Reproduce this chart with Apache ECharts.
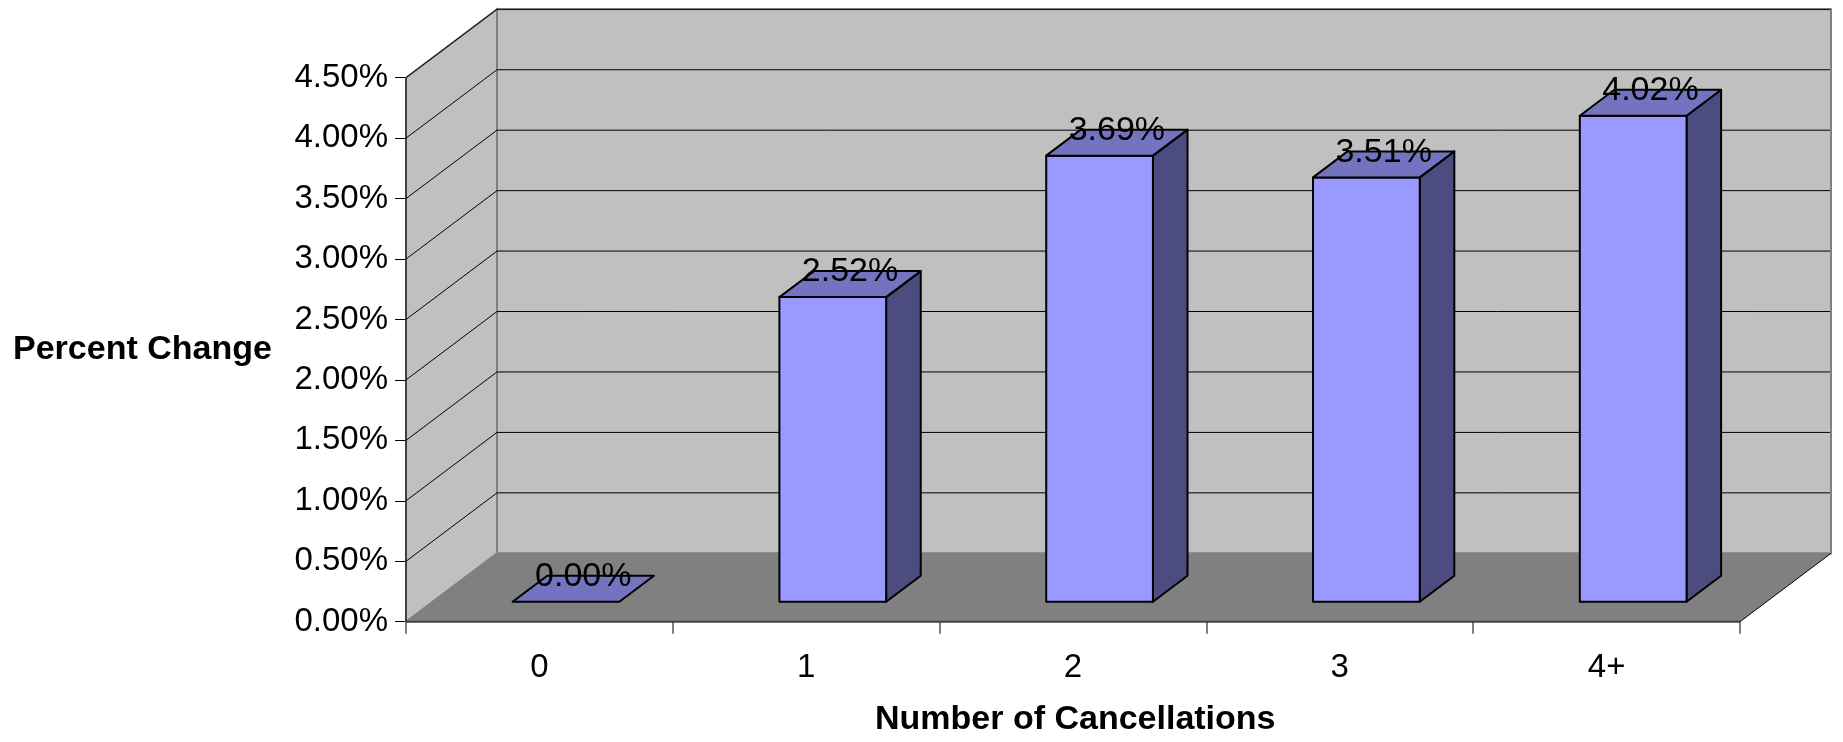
<!DOCTYPE html>
<html>
<head>
<meta charset="utf-8">
<script src="https://cdn.jsdelivr.net/npm/echarts@6/dist/echarts.min.js"></script>
<style>
  html, body { margin: 0; padding: 0; background: #ffffff; }
  #chart { width: 1843px; height: 742px; }
</style>
</head>
<body>
<div id="chart"></div>
<script>
// Chart data
const categories = ['0', '1', '2', '3', '4+'];
const percentChange = [0.00, 2.52, 3.69, 3.51, 4.02];
const yTicks = [0, 0.5, 1.0, 1.5, 2.0, 2.5, 3.0, 3.5, 4.0, 4.5];

// Oblique projection of the depth axis (screen offset of the full floor depth)
const DEPTH_DX = 91;
const DEPTH_DY = -68.4;
// Bars occupy this slice of the depth (0 = front, 1 = back wall)
const BAR_Z0 = 0.292;
const BAR_Z1 = 0.672;
const BAR_RATIO = 0.4;

const FONT = '"Liberation Sans", Arial, sans-serif';

const chart = echarts.init(document.getElementById('chart'), null, { renderer: 'canvas' });

function renderWalls(params, api) {
  const cs = params.coordSys;
  const xL = cs.x, xR = cs.x + cs.width;
  const y0 = api.coord([0, 0])[1];
  const yTop = api.coord([0, yTicks[yTicks.length - 1]])[1];
  const dx = DEPTH_DX, dy = DEPTH_DY;
  const children = [];
  // back wall
  children.push({
    type: 'polygon',
    shape: { points: [[xL + dx, yTop + dy], [xR + dx, yTop + dy], [xR + dx, y0 + dy], [xL + dx, y0 + dy]] },
    style: { fill: '#C0C0C0', stroke: '#808080', lineWidth: 2 }
  });
  // left side wall
  children.push({
    type: 'polygon',
    shape: { points: [[xL, y0], [xL, yTop], [xL + dx, yTop + dy], [xL + dx, y0 + dy]] },
    style: { fill: '#C0C0C0', stroke: '#808080', lineWidth: 2 }
  });
  // gridlines on both walls
  yTicks.forEach(function (v) {
    if (v === 0) return;
    const y = api.coord([0, v])[1];
    children.push({
      type: 'polyline',
      shape: { points: [[xL, y], [xL + dx, y + dy], [xR + dx, y + dy]] },
      style: { stroke: '#000000', lineWidth: 1, fill: null }
    });
  });
  // floor
  children.push({
    type: 'polygon',
    shape: { points: [[xL, y0], [xR, y0], [xR + dx, y0 + dy], [xL + dx, y0 + dy]] },
    style: { fill: '#808080', stroke: null }
  });
  children.push({
    type: 'line',
    shape: { x1: xR, y1: y0, x2: xR + dx, y2: y0 + dy },
    style: { stroke: '#000000', lineWidth: 1 }
  });
  children.push({
    type: 'line',
    shape: { x1: xR + dx, y1: y0 + dy, x2: xR + dx, y2: yTop + dy },
    style: { stroke: '#808080', lineWidth: 2 }
  });
  // front axis edges
  children.push({
    type: 'line',
    shape: { x1: xL, y1: y0, x2: xL, y2: yTop },
    style: { stroke: '#000000', lineWidth: 1 }
  });
  children.push({
    type: 'line',
    shape: { x1: xL, y1: y0, x2: xR, y2: y0 },
    style: { stroke: '#404040', lineWidth: 2 }
  });
  return { type: 'group', children: children };
}

function renderBar(params, api) {
  const cat = api.value(0);
  const val = api.value(1);
  const base = api.coord([cat, 0]);
  const top = api.coord([cat, val]);
  const band = api.size([1, 0])[0];
  const w = band * BAR_RATIO;
  const fx = DEPTH_DX * BAR_Z0, fy = DEPTH_DY * BAR_Z0;
  const bx = DEPTH_DX * BAR_Z1, by = DEPTH_DY * BAR_Z1;
  const xl = base[0] - w / 2 + fx, xr = base[0] + w / 2 + fx;
  const yb = base[1] + fy, yt = top[1] + fy;
  const ddx = bx - fx, ddy = by - fy;
  const edge = { stroke: '#000000', lineWidth: 2, lineJoin: 'round' };
  const children = [];
  if (yb - yt > 0.5) {
    children.push({
      type: 'polygon',
      shape: { points: [[xr, yt], [xr + ddx, yt + ddy], [xr + ddx, yb + ddy], [xr, yb]] },
      style: Object.assign({ fill: '#4C4C80' }, edge)
    });
    children.push({
      type: 'polygon',
      shape: { points: [[xl, yt], [xr, yt], [xr, yb], [xl, yb]] },
      style: Object.assign({ fill: '#9999FF' }, edge)
    });
  }
  children.push({
    type: 'polygon',
    shape: { points: [[xl, yt], [xr, yt], [xr + ddx, yt + ddy], [xl + ddx, yt + ddy]] },
    style: Object.assign({ fill: '#7373C0' }, edge)
  });
  children.push({
    type: 'text',
    style: {
      text: val.toFixed(2) + '%',
      x: (xl + xr + ddx) / 2,
      y: yt + ddy / 2 - 12,
      align: 'center',
      verticalAlign: 'middle',
      fontSize: 34,
      fontFamily: FONT,
      fill: '#000000'
    }
  });
  return { type: 'group', children: children };
}

const option = {
  animation: false,
  backgroundColor: '#ffffff',
  grid: { left: 406, right: 103, top: 77.7, bottom: 120.3, containLabel: false },
  xAxis: {
    type: 'category',
    data: categories,
    boundaryGap: true,
    axisLine: { show: false },
    axisTick: { show: true, alignWithLabel: false, length: 12, lineStyle: { color: '#808080', width: 2 } },
    axisLabel: { color: '#000000', fontSize: 33, fontFamily: FONT, margin: 30 },
    splitLine: { show: false }
  },
  yAxis: {
    type: 'value',
    min: 0,
    max: 4.5,
    interval: 0.5,
    axisLine: { show: false },
    axisTick: { show: true, length: 11, lineStyle: { color: '#000000', width: 1 } },
    axisLabel: {
      color: '#000000', fontSize: 33, fontFamily: FONT, margin: 18,
      formatter: function (v) { return v.toFixed(2) + '%'; }
    },
    splitLine: { show: false }
  },
  graphic: [
    {
      type: 'text', left: 13, top: 333,
      style: { text: 'Percent Change', fontSize: 34, fontWeight: 'bold', fontFamily: FONT, fill: '#000000' }
    },
    {
      type: 'text', left: 875, top: 703,
      style: { text: 'Number of Cancellations', fontSize: 34, fontWeight: 'bold', fontFamily: FONT, fill: '#000000' }
    }
  ],
  series: [
    {
      type: 'custom',
      name: 'walls',
      silent: true,
      z: 1,
      data: [[0, 0]],
      renderItem: renderWalls
    },
    {
      type: 'custom',
      name: 'Percent Change',
      silent: true,
      z: 3,
      data: categories.map(function (c, i) { return [i, percentChange[i]]; }),
      encode: { x: 0, y: 1 },
      renderItem: renderBar
    }
  ]
};

chart.setOption(option);
</script>
</body>
</html>
